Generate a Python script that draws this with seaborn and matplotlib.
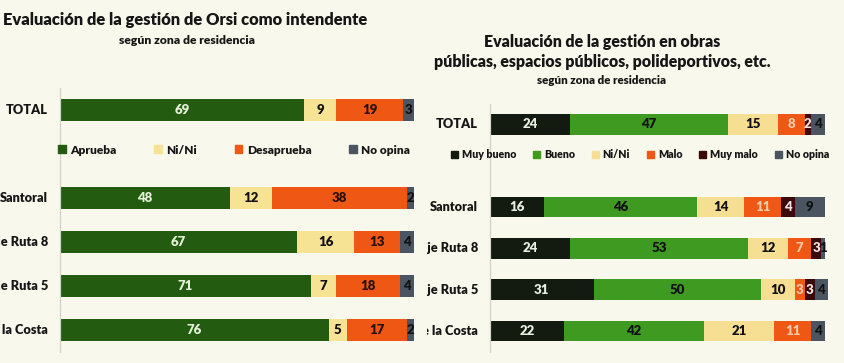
import matplotlib.pyplot as plt
import matplotlib.patches as mpatches
from matplotlib.transforms import Bbox, TransformedBbox
import pandas as pd
import seaborn as sns

# zonas de residencia (" " deja el hueco para la leyenda)
zonas = ["TOTAL", "Santoral", "Eje Ruta 8", "Eje Ruta 5", "Ciudad de la Costa"]
orden = ["TOTAL", " ", "Santoral", "Eje Ruta 8", "Eje Ruta 5", "Ciudad de la Costa"]

# gestión de Orsi como intendente
cats_orsi = ["Aprueba", "Ni/Ni", "Desaprueba", "No opina"]
aprueba = [69, 48, 67, 71, 76]
nini_orsi = [9, 12, 16, 7, 5]
desaprueba = [19, 38, 13, 18, 17]
noopina_orsi = [3, 2, 4, 4, 2]

# gestión en obras públicas
cats_obras = ["Muy bueno", "Bueno", "Ni/Ni", "Malo", "Muy malo", "No opina"]
muy_bueno = [24, 16, 24, 31, 22]
bueno = [47, 46, 53, 50, 42]
nini_obras = [15, 14, 12, 10, 21]
malo = [8, 11, 7, 3, 11]
muy_malo = [2, 4, 3, 3, 0]
noopina_obras = [4, 9, 1, 4, 4]

colores_orsi = ["#235c10", "#f7e394", "#ef5714", "#4b5562"]
texto_orsi = ["#e6efd8", "#111111", "#2a1005", "#111111"]
colores_obras = ["#131a10", "#3f9a22", "#f6df92", "#ef5714", "#3b0909", "#4b5562"]
texto_obras = ["#e8eee0", "#111111", "#111111", "#f8c8a8", "#f0e0e0", "#111111"]

BG = "#f8f8ec"
INK = "#161616"
W = "heavy"

sns.set_theme(style="white")
plt.rcParams["font.family"] = ["Lato", "DejaVu Sans"]
plt.rcParams["font.weight"] = W


def stacked_bars(ax, series, cats, colors, txt_colors, xmax, label_clip=None):
    df = pd.DataFrame(dict(zip(cats, series)))
    cum = df.cumsum(axis=1)
    cum["zona"] = zonas
    # draw cumulative totals from the widest down, each one over the last
    for i in reversed(range(len(cats))):
        sns.barplot(data=cum, x=cats[i], y="zona", order=orden, orient="h",
                    color=colors[i], saturation=1, width=0.5, errorbar=None,
                    linewidth=0, ax=ax)
    for r, z in enumerate(zonas):
        ypos = orden.index(z)
        for i, c in enumerate(cats):
            v = df.loc[r, c]
            if v <= 0:
                continue
            ax.text(cum.loc[r, c] - v / 2, ypos, str(v), ha="center", va="center",
                    fontsize=9.5, fontweight=W, color=txt_colors[i])
    ax.set_xlim(0, xmax)
    ax.set_ylim(5.5, -0.5)
    ax.set_xticks([])
    ax.set_yticks([])
    ax.set_xlabel("")
    ax.set_ylabel("")
    ax.set_facecolor("none")
    for s in ["top", "right", "bottom"]:
        ax.spines[s].set_visible(False)
    ax.spines["left"].set_color("#d2d2c8")
    ax.spines["left"].set_linewidth(0.9)
    # row labels
    px = ax.get_position().width * 845
    for z in zonas:
        t = ax.text(-12 / px, orden.index(z), z, transform=ax.get_yaxis_transform(),
                    ha="right", va="center", fontsize=9.2, fontweight=W,
                    color=INK, clip_on=label_clip is not None)
        if label_clip is not None:
            t.set_clip_box(label_clip)


fig = plt.figure(figsize=(8.45, 3.63), dpi=100)
fig.patch.set_facecolor(BG)

ax1 = fig.add_axes([60 / 845, 11 / 363, 354 / 845, 264 / 363])
ax2 = fig.add_axes([490 / 845, 11.5 / 363, 338 / 845, 248 / 363])

stacked_bars(ax1, [aprueba, nini_orsi, desaprueba, noopina_orsi], cats_orsi,
             colores_orsi, texto_orsi, 100)
clip = TransformedBbox(Bbox.from_extents(427 / 845, 0, 1, 1), fig.transFigure)
stacked_bars(ax2, [muy_bueno, bueno, nini_obras, malo, muy_malo, noopina_obras],
             cats_obras, colores_obras, texto_obras, 101, label_clip=clip)

# legends
leg_kw = dict(loc="center", mode="expand", frameon=False, handlelength=0.65,
              handleheight=0.65, handletextpad=0.35, borderaxespad=0, borderpad=0,
              labelcolor=INK)
fig.legend([mpatches.Patch(color=c) for c in colores_orsi], cats_orsi, ncol=4,
           prop={"weight": W, "size": 8.6},
           bbox_to_anchor=(58 / 845, 1 - 160 / 363, 352 / 845, 20 / 363), **leg_kw)
fig.legend([mpatches.Patch(color=c) for c in colores_obras], cats_obras, ncol=6,
           prop={"weight": W, "size": 7.7},
           bbox_to_anchor=(451 / 845, 1 - 165 / 363, 378 / 845, 20 / 363), **leg_kw)

# titles
fig.text(3 / 845, 1 - 20 / 363, "Evaluación de la gestión de Orsi como intendente",
         ha="left", va="center", fontsize=11.9, fontweight=W, color=INK)
fig.text(187 / 845, 1 - 40 / 363, "según zona de residencia", ha="center",
         va="center", fontsize=8.7, fontweight=W, color=INK)
fig.text(602 / 845, 1 - 42 / 363, "Evaluación de la gestión en obras", ha="center",
         va="center", fontsize=11.4, fontweight=W, color=INK)
fig.text(602 / 845, 1 - 62 / 363, "públicas, espacios públicos, polideportivos, etc.",
         ha="center", va="center", fontsize=11.4, fontweight=W, color=INK)
fig.text(602 / 845, 1 - 80 / 363, "según zona de residencia", ha="center",
         va="center", fontsize=8.3, fontweight=W, color=INK)

fig.savefig("out.png", dpi=100, facecolor=BG)
